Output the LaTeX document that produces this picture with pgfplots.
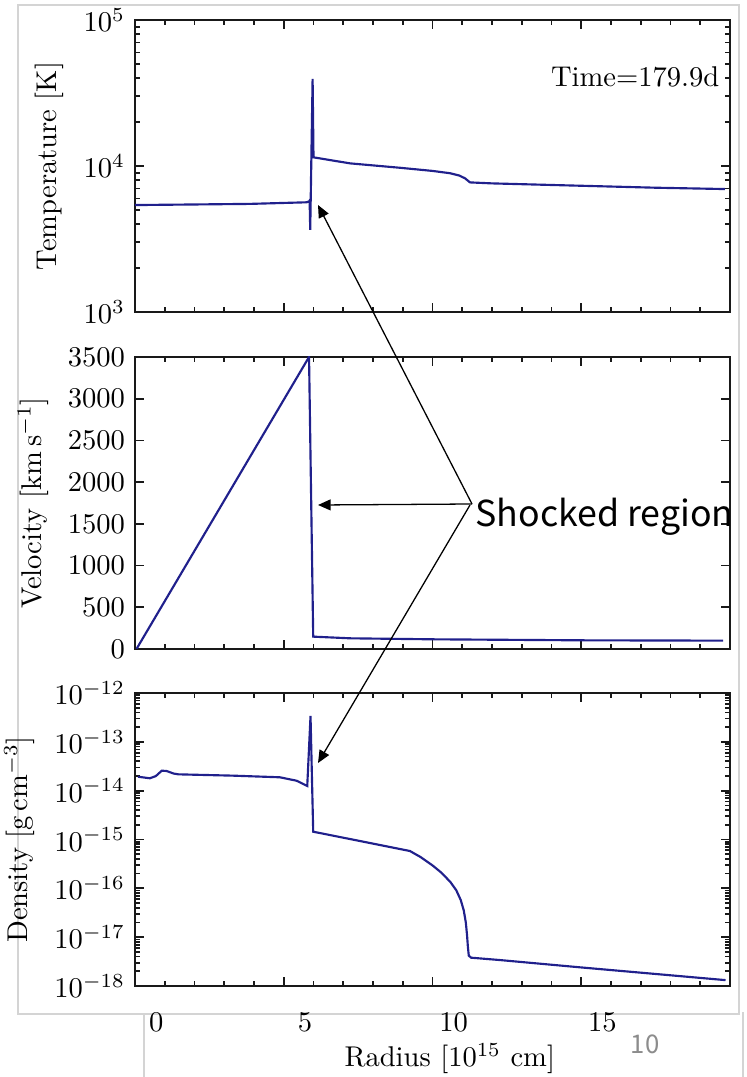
\documentclass[border=0pt]{standalone}
\usepackage{pgfplots}
\pgfplotsset{compat=1.18}
\usepackage{fontspec}
\newfontfamily\jpfont{Noto Sans CJK JP}
\usetikzlibrary{arrows.meta}
\definecolor{profile}{RGB}{32,32,140}
\definecolor{framegray}{RGB}{212,212,212}

\pgfplotstableread{
x T
0     5400
2.0   5450
3.87  5500
5.77  5640
5.85  5720
5.87  5800
5.89  3650
5.97  39500
6.00  11460
7.23  10420
8.91  9720
10.0  9250
10.59 8920
10.9  8600
11.09 8240
11.26 7720
12.0  7600
14.02 7410
17.48 7100
19.83 6950
}\temperature

\pgfplotstableread{
x v
0.05  0
5.85  3500
5.99  148
7.23  128
10.02 116
15.0  104
19.77 100
}\velocity

\pgfplotstableread{
x rho
0.10  1.93e-14
0.50  1.795e-14
0.70  1.99e-14
0.90  2.565e-14
1.06  2.53e-14
1.30  2.24e-14
1.46  2.16e-14
3.30  2.03e-14
4.87  1.88e-14
5.43  1.60e-14
5.79  1.25e-14
5.90  3.38e-13
5.99  1.445e-15
9.24  5.82e-16
9.60  4.37e-16
10.00 2.95e-16
10.30 2.09e-16
10.60 1.35e-16
10.80 9.12e-17
10.95 5.75e-17
11.05 3.55e-17
11.12 2.00e-17
11.16 1.12e-17
11.19 6.31e-18
11.22 4.17e-18
11.30 3.80e-18
12.27 3.40e-18
15.0  2.40e-18
19.85 1.32e-18
}\density

\pgfplotsset{
  panel/.style={
    scale only axis, width=208.25pt,
    xmin=0, xmax=20,
    xtick={0,5,10,15,20}, minor x tick num=4,
    tick align=inside,
    major tick length=3pt, minor tick length=1.7pt,
    axis line style={line width=0.8pt, black!90},
    every tick/.style={black!90, line width=0.6pt},
    tick label style={font=\fontsize{10}{12}\selectfont},
    label style={font=\fontsize{10}{12}\selectfont},
    scaled ticks=false,
    /pgf/number format/1000 sep={},
  },
  curve/.style={profile, line width=0.75pt, no markers},
}

\begin{document}
\begin{tikzpicture}
\useasboundingbox (0,0) rectangle (261.45pt,376.95pt);

% light frames around the figure and the radius scale
\begin{scope}[x=0.35pt,y=-0.35pt,shift={(0pt,376.95pt)}]
  \draw[framegray, line width=0.4pt] (18,5) rectangle (739,1014);
  \draw[framegray, line width=0.4pt] (144,1015) -- (144,1077) (743,1012) -- (743,1077);
\end{scope}

% temperature
\begin{axis}[panel, at={(47.25pt,267.75pt)}, anchor=south west, height=102.2pt,
  ymode=log, ymin=1e3, ymax=1e5, ytick={1e3,1e4,1e5},
  xticklabels={,,,,,}, ylabel={Temperature [K]}]
  \addplot[curve] table[x=x, y=T] {\temperature};
  \node[anchor=base east, inner sep=0pt, font=\fontsize{10}{12}\selectfont]
    at (rel axis cs:0.983,0.771) {Time=179.9d};
\end{axis}

% velocity
\begin{axis}[panel, at={(47.25pt,149.8pt)}, anchor=south west, height=102.2pt,
  ymin=0, ymax=3500, ytick={0,500,...,3500},
  xticklabels={,,,,,}, ylabel={Velocity [$\mathrm{km\,s^{-1}}$]}]
  \addplot[curve] table[x=x, y=v] {\velocity};
\end{axis}

% density
\begin{axis}[panel, at={(47.25pt,31.85pt)}, anchor=south west, height=102.55pt,
  ymode=log, ymin=1e-18, ymax=1e-12,
  ytick={1e-18,1e-17,1e-16,1e-15,1e-14,1e-13,1e-12},
  xticklabels={0,5,10,15,{}},
  xticklabel style={xshift=7.4pt, yshift=-8pt, inner sep=1pt},
  ylabel={Density [$\mathrm{g\,cm^{-3}}$]},
  xlabel={Radius [$10^{15}$ cm]},
  xlabel style={at={(axis description cs:0.529,-0.248)}, anchor=center, inner sep=0.5pt}]
  \addplot[curve] table[x=x, y=rho] {\density};
\end{axis}

% annotation of the shock
\begin{scope}[x=0.35pt,y=-0.35pt,shift={(0pt,376.95pt)}]
  \draw[line width=0.45pt, -{Triangle[length=4.4pt,width=3.8pt]}] (472,504) -- (318,205);
  \draw[line width=0.45pt, -{Triangle[length=4.4pt,width=3.8pt]}] (472,504) -- (318,505);
  \draw[line width=0.45pt, -{Triangle[length=4.4pt,width=3.8pt]}] (470,505) -- (318,763);
  \node[anchor=base west, inner sep=0pt, font=\jpfont\fontsize{12.5}{14}\selectfont]
    at (475,527) {Shocked region};
  \node[text=black!45, inner sep=0pt, font=\jpfont\fontsize{9}{10}\selectfont]
    at (645,1044.5) {10};
\end{scope}
\end{tikzpicture}
\end{document}
